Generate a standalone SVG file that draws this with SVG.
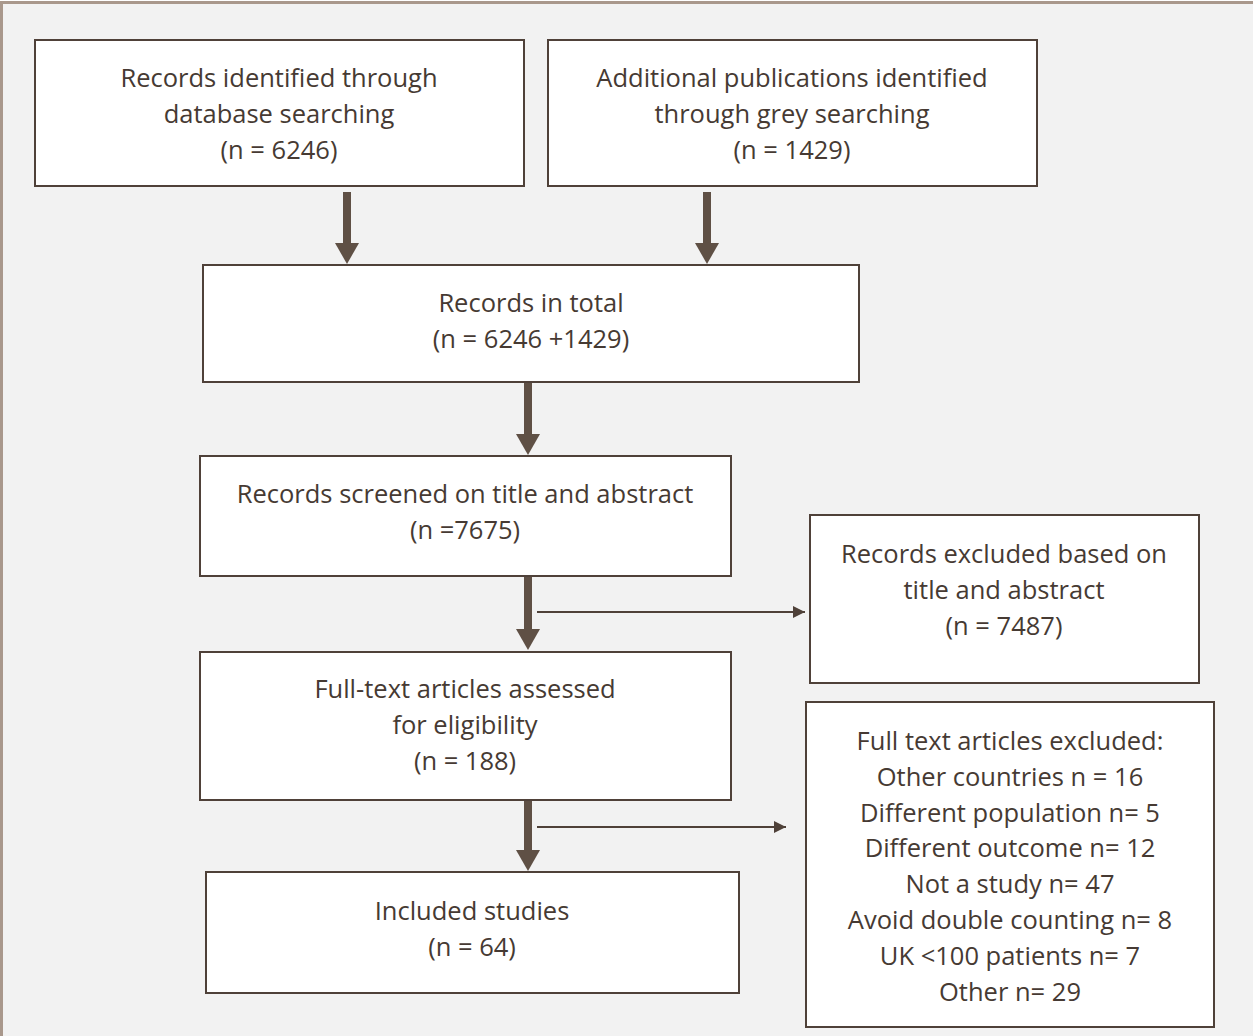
<svg xmlns="http://www.w3.org/2000/svg" width="1253" height="1036" viewBox="0 0 1253 1036">
<defs>
<style>
.bg{fill:#f2f2f2;stroke:#a9988c;stroke-width:3}
.box{fill:#ffffff;stroke:#4f4139;stroke-width:2}
.t{font-family:"Open Sans","Liberation Sans",sans-serif;font-size:25.5px;fill:#463a33;text-anchor:middle;dominant-baseline:central}
.thick{stroke:#5f5045;stroke-width:8;fill:none}
.thin{stroke:#4f4139;stroke-width:2;fill:none}
.head{fill:#5f5045}
</style>
<marker id="ah" viewBox="0 0 10 10" refX="10" refY="5" markerWidth="12" markerHeight="12" markerUnits="userSpaceOnUse" orient="auto">
<path d="M0,0 L10,5 L0,10 z" fill="#4f4139"/>
</marker>
</defs>
<rect class="bg" x="1.5" y="2.5" width="1260" height="1040"/>
<g id="connectors">
<line class="thick" x1="347" y1="192" x2="347" y2="244"/>
<path class="head" d="M335,243 L359,243 L347,264 z"/>
<line class="thick" x1="707" y1="192" x2="707" y2="244"/>
<path class="head" d="M695,243 L719,243 L707,264 z"/>
<line class="thick" x1="528" y1="383" x2="528" y2="435"/>
<path class="head" d="M516,434 L540,434 L528,455 z"/>
<line class="thick" x1="528" y1="577" x2="528" y2="630"/>
<path class="head" d="M516,629 L540,629 L528,650 z"/>
<line class="thick" x1="528" y1="801" x2="528" y2="851"/>
<path class="head" d="M516,850 L540,850 L528,871 z"/>
<line class="thin" x1="537" y1="612" x2="805" y2="612" marker-end="url(#ah)"/>
<line class="thin" x1="537" y1="827" x2="786" y2="827" marker-end="url(#ah)"/>
</g>
<g id="n1">
<rect class="box" x="35" y="40" width="489" height="146"/>
<text class="t" x="279" y="77">Records identified through</text>
<text class="t" x="279" y="113">database searching</text>
<text class="t" x="279" y="149">(n = 6246)</text>
</g>
<g id="n2">
<rect class="box" x="548" y="40" width="489" height="146"/>
<text class="t" x="792" y="77">Additional publications identified</text>
<text class="t" x="792" y="113">through grey searching</text>
<text class="t" x="792" y="149">(n = 1429)</text>
</g>
<g id="n3">
<rect class="box" x="203" y="265" width="656" height="117"/>
<text class="t" x="531" y="302">Records in total</text>
<text class="t" x="531" y="338">(n = 6246 +1429)</text>
</g>
<g id="n4">
<rect class="box" x="200" y="456" width="531" height="120"/>
<text class="t" x="465" y="493">Records screened on title and abstract</text>
<text class="t" x="465" y="529">(n =7675)</text>
</g>
<g id="n5">
<rect class="box" x="810" y="515" width="389" height="168"/>
<text class="t" x="1004" y="553">Records excluded based on</text>
<text class="t" x="1004" y="589">title and abstract</text>
<text class="t" x="1004" y="625">(n = 7487)</text>
</g>
<g id="n6">
<rect class="box" x="200" y="652" width="531" height="148"/>
<text class="t" x="465" y="688">Full-text articles assessed</text>
<text class="t" x="465" y="724">for eligibility</text>
<text class="t" x="465" y="760">(n = 188)</text>
</g>
<g id="n7">
<rect class="box" x="806" y="702" width="408" height="325"/>
<text class="t" x="1010" y="740">Full text articles excluded:</text>
<text class="t" x="1010" y="776">Other countries n = 16</text>
<text class="t" x="1010" y="812">Different population n= 5</text>
<text class="t" x="1010" y="847">Different outcome n= 12</text>
<text class="t" x="1010" y="883">Not a study n= 47</text>
<text class="t" x="1010" y="919">Avoid double counting n= 8</text>
<text class="t" x="1010" y="955">UK &lt;100 patients n= 7</text>
<text class="t" x="1010" y="991">Other n= 29</text>
</g>
<g id="n8">
<rect class="box" x="206" y="872" width="533" height="121"/>
<text class="t" x="472" y="910">Included studies</text>
<text class="t" x="472" y="946">(n = 64)</text>
</g>
</svg>
